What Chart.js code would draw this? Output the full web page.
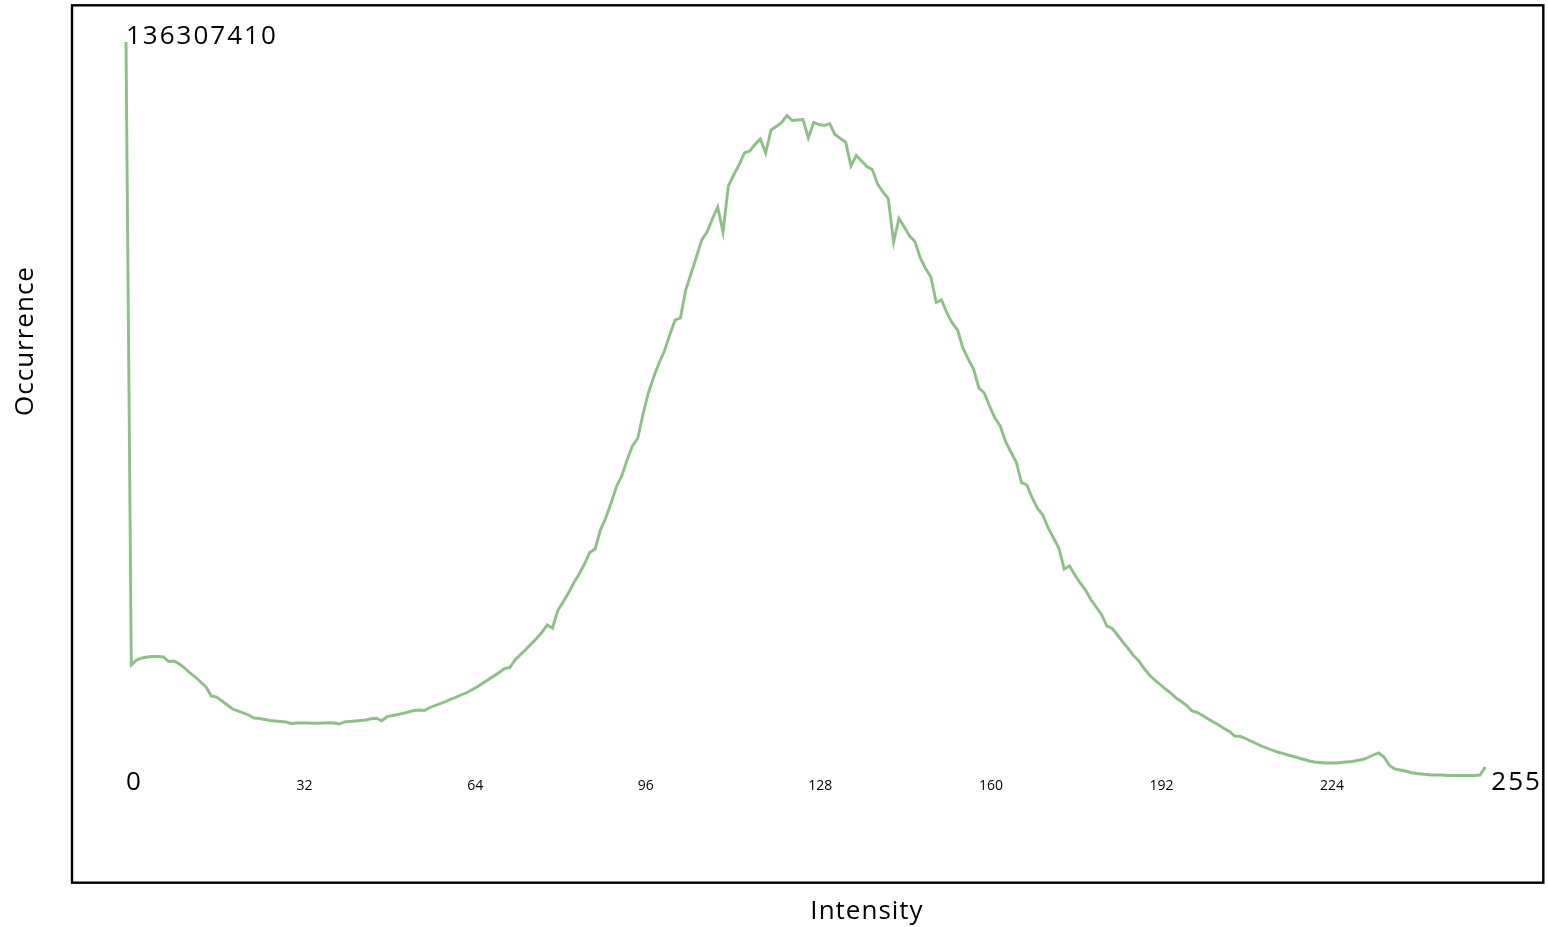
<!DOCTYPE html>
<html>
<head>
<meta charset="utf-8">
<title>Intensity histogram</title>
<script src="https://cdn.jsdelivr.net/npm/chart.js@4.4.1/dist/chart.umd.min.js"></script>
<style>
  html, body { margin: 0; padding: 0; background: #fff; }
  #wrap { position: relative; width: 1548px; height: 927px; }
</style>
</head>
<body>
<div id="wrap"><canvas id="histChart"></canvas></div>
<script>
(() => {
    "use strict";

    // Data
    const intensities = Array.from({ length: 256 }, (_, i) => i);
    const occurrence = [
        136307410, 22779000, 23690000, 24054000, 24236000, 24328000, 24328000, 24236000,
        23416000, 23508000, 22961000, 22232000, 21321000, 20592000, 19681000, 18770000,
        17130000, 16947000, 16218000, 15489000, 14761000, 14396000, 14032000, 13667000,
        13120000, 13029000, 12847000, 12665000, 12574000, 12483000, 12392000, 12118000,
        12209000, 12209000, 12209000, 12155000, 12155000, 12209000, 12264000, 12209000,
        12027000, 12392000, 12483000, 12574000, 12665000, 12756000, 12993000, 13066000,
        12628000, 13394000, 13576000, 13758000, 13977000, 14214000, 14487000, 14578000,
        14487000, 15034000, 15398000, 15763000, 16127000, 16583000, 16947000, 17403000,
        17767000, 18314000, 18861000, 19499000, 20136000, 20774000, 21412000, 22141000,
        22323000, 23690000, 24692000, 25603000, 26605000, 27608000, 28701000, 30068000,
        29521000, 32710000, 34259000, 35899000, 37721000, 39361000, 41184000, 43279000,
        43917000, 47380000, 49566000, 52300000, 55270000, 57220000, 60136000, 62687000,
        64053000, 68518000, 72345000, 75261000, 77812000, 80001000, 82914000, 85648000,
        86012000, 91115000, 94121000, 97128000, 100226000, 101684000, 104053000, 106240000,
        101684000, 110066000, 112071000, 113893000, 116080000, 116444000, 117629000, 118631000,
        116080000, 120271000, 120909000, 121638000, 122913000, 122002000, 122093000, 122185000,
        118813000, 121638000, 121274000, 121091000, 121456000, 119451000, 118722000, 118084000,
        113711000, 115624000, 114622000, 113620000, 113073000, 110431000, 108973000, 107788000,
        99861000, 104144000, 102595000, 100955000, 99953000, 96946000, 95032000, 93483000,
        88837000, 89292000, 86923000, 85101000, 83825000, 80545000, 78541000, 76718000,
        73256000, 72345000, 69976000, 67789000, 66331000, 63507000, 61593000, 59771000,
        56035000, 55580000, 53211000, 51297000, 50113000, 47744000, 45922000, 44099000,
        40273000, 40819000, 39179000, 37721000, 36446000, 34715000, 33348000, 31981000,
        29886000, 29430000, 28245000, 26970000, 25785000, 24510000, 23508000, 22141000,
        20956000, 20045000, 19225000, 18405000, 17676000, 16765000, 16127000, 15398000,
        14396000, 14123000, 13576000, 12938000, 12392000, 11845000, 11207000, 10660000,
        9840000, 9786000, 9385000, 8929000, 8474000, 8018000, 7654000, 7289000,
        6925000, 6688000, 6378000, 6105000, 5831000, 5558000, 5285000, 5102000,
        5011000, 4920000, 4920000, 4920000, 5011000, 5102000, 5194000, 5376000,
        5558000, 5922000, 6378000, 6742000, 6014000, 4465000, 3827000, 3645000,
        3462000, 3189000, 3007000, 2916000, 2825000, 2733000, 2733000, 2733000,
        2642000, 2642000, 2642000, 2642000, 2642000, 2642000, 2733000, 4191000
    ];
    const minorTicks = [32, 64, 96, 128, 160, 192, 224];
    const endTicks = [0, 255];
    const maxCount = 136307410;

    const FONT = "'Open Sans', 'Noto Sans', sans-serif";

    // frame, axis titles and labels
    const annotate = {
        id: "annotate",
        afterDraw(chart) {
            const c = chart.ctx;
            const xs = chart.scales.x;
            const ys = chart.scales.y;
            const base = ys.getPixelForValue(0);

            c.save();
            c.strokeStyle = "#000";
            c.lineWidth = 2.4;
            c.strokeRect(72, 5.3, 1471.3, 877.4);

            c.fillStyle = "#000";
            c.textBaseline = "alphabetic";
            c.textAlign = "left";

            c.font = "14px " + FONT;
            c.letterSpacing = "0px";
            minorTicks.forEach(v => {
                c.fillText(String(v), xs.getPixelForValue(v), base);
            });

            c.font = "26px " + FONT;
            c.letterSpacing = "2px";
            c.fillText(String(endTicks[0]), xs.getPixelForValue(endTicks[0]), base);
            c.fillText(String(endTicks[1]), xs.getPixelForValue(endTicks[1]) + 6, base);
            c.fillText(String(maxCount), xs.getPixelForValue(0), ys.getPixelForValue(maxCount) + 1.5);

            c.letterSpacing = "1px";
            c.textAlign = "center";
            c.fillText("Intensity", 867, 919);

            c.translate(33, 341);
            c.rotate(-Math.PI / 2);
            c.fillText("Occurrence", 0, 0);
            c.restore();
        }
    };

    const ctx = document.getElementById("histChart").getContext("2d");
    // eslint-disable-next-line no-unused-vars
    const histChart = new Chart(ctx, {
        type: "line",
        data: {
            labels: intensities,
            datasets: [{
                label: "Occurrence",
                data: intensities.map((x, i) => ({ x: x, y: occurrence[i] })),
                borderColor: "#8dbf87",
                borderWidth: 2.9,
                backgroundColor: "transparent",
                pointRadius: 0,
                tension: 0,
                clip: false
            }]
        },
        options: {
            responsive: true,
            maintainAspectRatio: false,
            animation: false,
            layout: {
                padding: { left: 126, right: 62.7, top: 42, bottom: 137 }
            },
            plugins: {
                legend: { display: false },
                tooltip: { enabled: false }
            },
            scales: {
                x: { type: "linear", min: 0, max: 255, display: false },
                y: { min: 0, max: maxCount, display: false }
            }
        },
        plugins: [annotate]
    });
})();
</script>
</body>
</html>
